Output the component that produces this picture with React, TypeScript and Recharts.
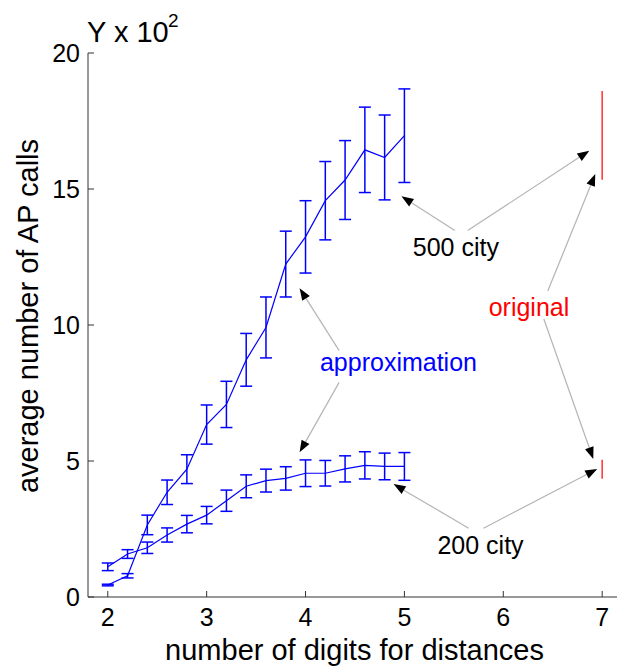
import React from "react";
import {
  ComposedChart,
  Line,
  ErrorBar,
  XAxis,
  YAxis,
  ReferenceLine,
  ReferenceDot,
  Label,
} from "recharts";

const FONT = "'Liberation Sans', Arial, Helvetica, sans-serif";
const BLUE = "#0000ff";
const RED = "#ff3030";

// number of digits used for the distances
const digits = [2, 2.2, 2.4, 2.6, 2.8, 3, 3.2, 3.4, 3.6, 3.8, 4, 4.2, 4.4, 4.6, 4.8, 5];

// average AP calls (x 10^2) and error half-widths
const city500Mean = [0.44, 0.78, 2.65, 3.85, 4.7, 6.34, 7.08, 8.72, 9.91, 12.24, 13.24, 14.57, 15.33, 16.44, 16.16, 16.96];
const city500Err = [0.03, 0.08, 0.36, 0.45, 0.53, 0.72, 0.85, 0.97, 1.12, 1.21, 1.33, 1.44, 1.45, 1.57, 1.56, 1.72];
const city200Mean = [1.11, 1.58, 1.81, 2.28, 2.68, 3.01, 3.54, 4.07, 4.28, 4.36, 4.55, 4.55, 4.71, 4.84, 4.8, 4.8];
const city200Err = [0.14, 0.16, 0.21, 0.26, 0.32, 0.32, 0.39, 0.42, 0.42, 0.43, 0.49, 0.47, 0.48, 0.5, 0.49, 0.51];

// full-precision runs (500 city, 200 city)
const originalDigits = [7, 7];
const originalMean = [16.97, 4.7];
const originalErr = [1.63, 0.35];

const xTicks = [2, 3, 4, 5, 6, 7];
const yTicks = [0, 5, 10, 15, 20];

// annotation arrows: [fromX, fromY, toX, toY] in data units
const arrows = [
  [5.51, 13.47, 4.97, 14.73],
  [5.64, 13.47, 6.87, 16.41],
  [6.45, 11.25, 6.93, 15.55],
  [6.41, 10.22, 6.91, 5.07],
  [4.34, 9.06, 3.94, 11.35],
  [4.34, 7.89, 3.94, 5.32],
  [5.65, 2.53, 4.89, 4.15],
  [5.8, 2.53, 6.95, 4.71],
];

// annotation texts: [text, x, y, colour]
const notes: [string, number, number, string][] = [
  ["500 city", 5.52, 12.87, "#000"],
  ["approximation", 4.94, 8.65, BLUE],
  ["original", 6.26, 10.66, "#ff0000"],
  ["200 city", 5.77, 1.91, "#000"],
];

const rows = (xs: number[], ys: number[], es: number[]) =>
  xs.map((x, i) => ({ x, y: ys[i], err: es[i] }));

const data500 = rows(digits, city500Mean, city500Err);
const data200 = rows(digits, city200Mean, city200Err);
const dataOriginal = rows(originalDigits, originalMean, originalErr);

function Arrow(props: any) {
  const { x1, y1, x2, y2 } = props;
  const dx = x2 - x1;
  const dy = y2 - y1;
  const len = Math.sqrt(dx * dx + dy * dy) || 1;
  const ux = dx / len;
  const uy = dy / len;
  const hl = 12;
  const hw = 4.5;
  const bx = x2 - ux * hl;
  const by = y2 - uy * hl;
  const pts = `${x2},${y2} ${bx - uy * hw},${by + ux * hw} ${bx + uy * hw},${by - ux * hw}`;
  return (
    <g>
      <line x1={x1} y1={y1} x2={bx} y2={by} stroke="#b4b4b4" strokeWidth={1.2} />
      <polygon points={pts} fill="#000" />
    </g>
  );
}

const XLabel = (p: any) => {
  const vb = p.viewBox || { x: 88, y: 597, width: 529, height: 70 };
  return (
    <text x={vb.x + vb.width / 2 + 2} y={vb.y + 63} textAnchor="middle" fontSize={29} fontFamily={FONT} fill="#000">
      number of digits for distances
    </text>
  );
};

const YLabel = (p: any) => {
  const vb = p.viewBox || { x: 28, y: 53, width: 60, height: 544 };
  const cx = vb.x;
  const cy = vb.y + vb.height / 2 - 9;
  return (
    <text
      x={cx}
      y={cy}
      transform={`rotate(-90, ${cx}, ${cy})`}
      textAnchor="middle"
      dominantBaseline="central"
      fontSize={29}
      fontFamily={FONT}
      fill="#000"
    >
      average number of AP calls
    </text>
  );
};

const blank = () => "";

export default function App() {
  const tickStyle = { fill: "#000", fontSize: 25, fontFamily: FONT };
  return (
    <div style={{ position: "absolute", left: 0, top: 0, width: 618, height: 667, background: "#fff" }}>
      <svg width={300} height={50} style={{ position: "absolute", left: 0, top: 0 }}>
        <text x={87} y={42} fontSize={29} fontFamily={FONT} fill="#000">
          Y x 10
        </text>
        <text x={168} y={27} fontSize={19} fontFamily={FONT} fill="#000">
          2
        </text>
      </svg>
      <ComposedChart width={618} height={667} margin={{ top: 53, right: 1, left: 28, bottom: 0 }}>
        <XAxis
          dataKey="x"
          type="number"
          domain={[1.8, 7.15]}
          allowDataOverflow
          ticks={xTicks}
          height={70}
          stroke="#333"
          tickSize={-6}
          tickMargin={17}
          tick={tickStyle}
          label={<Label content={XLabel} />}
        />
        <XAxis
          xAxisId="top"
          orientation="top"
          type="number"
          domain={[1.8, 7.15]}
          allowDataOverflow
          ticks={xTicks}
          height={0}
          stroke="#333"
          tickSize={-6}
          tickFormatter={blank}
        />
        <YAxis
          type="number"
          domain={[0, 20]}
          allowDataOverflow
          ticks={yTicks}
          width={60}
          stroke="#333"
          tickSize={-6}
          tickMargin={14}
          tick={tickStyle}
          label={<Label content={YLabel} />}
        />
        <YAxis
          yAxisId="right"
          orientation="right"
          type="number"
          domain={[0, 20]}
          allowDataOverflow
          ticks={yTicks}
          width={0}
          stroke="#333"
          tickSize={-6}
          tickFormatter={blank}
        />
        <Line data={data500} dataKey="y" stroke={BLUE} strokeWidth={1.2} dot={false} isAnimationActive={false}>
          <ErrorBar dataKey="err" width={6} stroke={BLUE} strokeWidth={1.5} direction="y" isAnimationActive={false} />
        </Line>
        <Line data={data200} dataKey="y" stroke={BLUE} strokeWidth={1.2} dot={false} isAnimationActive={false}>
          <ErrorBar dataKey="err" width={6} stroke={BLUE} strokeWidth={1.5} direction="y" isAnimationActive={false} />
        </Line>
        <Line data={dataOriginal} dataKey="y" stroke="none" dot={false} isAnimationActive={false}>
          <ErrorBar dataKey="err" width={0} stroke={RED} strokeWidth={1.5} direction="y" isAnimationActive={false} />
        </Line>
        {arrows.map(([ax, ay, bx, by], i) => (
          <ReferenceLine
            key={`a${i}`}
            segment={[
              { x: ax, y: ay },
              { x: bx, y: by },
            ]}
            shape={(p: any) => <Arrow {...p} />}
          />
        ))}
        {notes.map(([txt, x, y, col]) => (
          <ReferenceDot
            key={txt}
            x={x}
            y={y}
            r={0}
            fill="none"
            stroke="none"
            label={{ value: txt, position: "center", fill: col, fontSize: 25, fontFamily: FONT }}
          />
        ))}
      </ComposedChart>
    </div>
  );
}
